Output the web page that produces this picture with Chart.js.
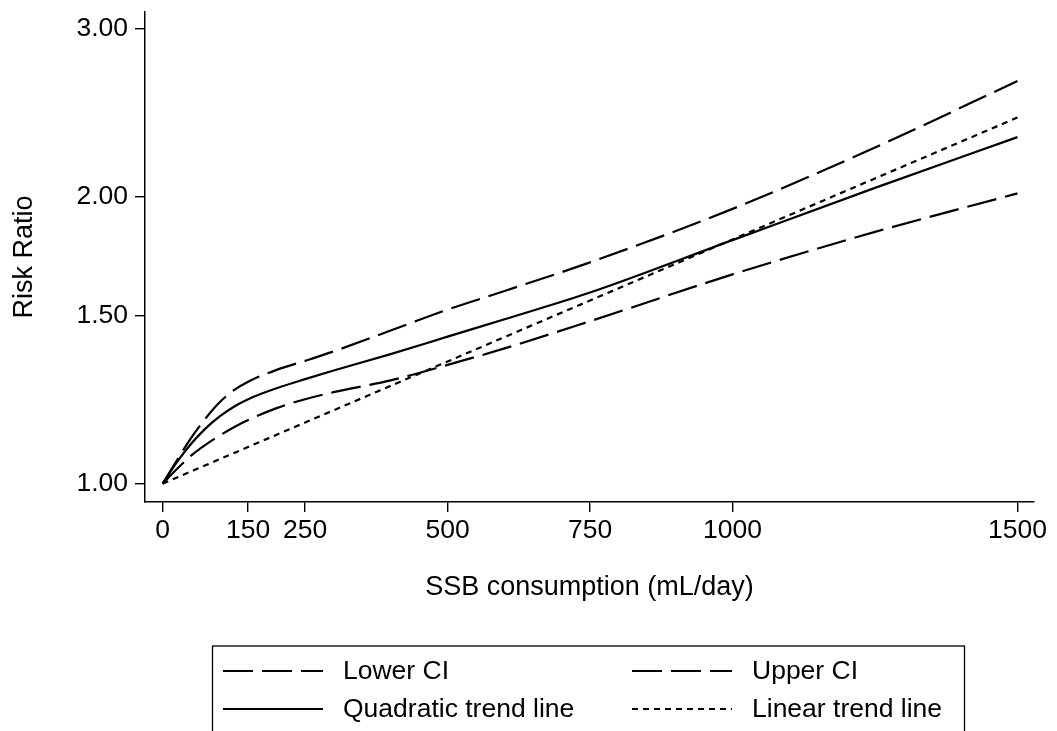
<!DOCTYPE html>
<html>
<head>
<meta charset="utf-8">
<script src="https://cdn.jsdelivr.net/npm/chart.js@4.4.1/dist/chart.umd.min.js"></script>
<style>
  html, body { margin: 0; padding: 0; background: #fff; }
  #wrap { width: 1057px; height: 731px; }
</style>
</head>
<body>
<div id="wrap"><canvas id="rrChart" width="1057" height="731"></canvas></div>
<script>
// SSB consumption (mL/day) where the curves are sampled
const doseX = [0, 25, 50, 75, 100, 125, 150, 200, 250, 300, 400, 500, 600, 750, 1000, 1250, 1500];
const lowerCI = [1.000, 1.036, 1.070, 1.098, 1.123, 1.146, 1.166, 1.200, 1.226, 1.247, 1.283, 1.332, 1.386, 1.480, 1.657, 1.836, 2.015];
const upperCI = [1.000, 1.058, 1.117, 1.170, 1.217, 1.253, 1.279, 1.316, 1.345, 1.376, 1.447, 1.522, 1.592, 1.706, 1.941, 2.251, 2.643];
const quadratic = [1.000, 1.053, 1.101, 1.142, 1.176, 1.204, 1.226, 1.259, 1.287, 1.314, 1.367, 1.426, 1.487, 1.586, 1.800, 2.042, 2.308];
const linearX = [0, 250, 500, 750, 1000, 1250, 1500];
const linearTrend = [1.000, 1.159, 1.343, 1.556, 1.803, 2.089, 2.420];

const xTicks = [0, 150, 250, 500, 750, 1000, 1500];
const yTicks = [1.00, 1.50, 2.00, 3.00];

const FONT = '"Liberation Sans", Arial, Helvetica, sans-serif';
const toPoints = (xs, ys) => xs.map((x, i) => ({ x: x, y: ys[i] }));

// legend drawn as a framed box under the axis title
const boxLegend = {
  id: 'boxLegend',
  afterDraw(chart) {
    const ctx = chart.ctx;
    const cols = [223, 632];
    const rows = [671, 709];
    ctx.save();
    ctx.strokeStyle = '#000';
    ctx.lineWidth = 1.3;
    ctx.strokeRect(212.5, 646, 752, 140);
    chart.data.datasets.forEach((ds, i) => {
      const x = cols[i % 2];
      const y = rows[Math.floor(i / 2)];
      ctx.beginPath();
      ctx.setLineDash(ds.borderDash || []);
      ctx.lineWidth = 2;
      ctx.moveTo(x, y);
      ctx.lineTo(x + 100, y);
      ctx.stroke();
      ctx.setLineDash([]);
      ctx.fillStyle = '#000';
      ctx.font = '26.5px ' + FONT;
      ctx.textBaseline = 'middle';
      ctx.textAlign = 'left';
      ctx.fillText(ds.label, x + 120, y + 1);
    });
    ctx.restore();
  }
};

const ctx = document.getElementById('rrChart').getContext('2d');
new Chart(ctx, {
  type: 'line',
  data: {
    datasets: [
      {
        label: 'Lower CI',
        data: toPoints(doseX, lowerCI),
        borderColor: '#000',
        borderDash: [30, 9],
        cubicInterpolationMode: 'monotone'
      },
      {
        label: 'Upper CI',
        data: toPoints(doseX, upperCI),
        borderColor: '#000',
        borderDash: [30, 9],
        cubicInterpolationMode: 'monotone'
      },
      {
        label: 'Quadratic trend line',
        data: toPoints(doseX, quadratic),
        borderColor: '#000',
        cubicInterpolationMode: 'monotone'
      },
      {
        label: 'Linear trend line',
        data: toPoints(linearX, linearTrend),
        borderColor: '#000',
        borderDash: [6, 5],
        tension: 0
      }
    ]
  },
  options: {
    responsive: false,
    animation: false,
    layout: { padding: { top: 12, right: 23, bottom: 0, left: 0 } },
    elements: {
      point: { radius: 0 },
      line: { borderWidth: 2.2, fill: false }
    },
    plugins: {
      legend: { display: false },
      tooltip: { enabled: false }
    },
    scales: {
      x: {
        type: 'linear',
        min: -31,
        max: 1529,
        bounds: 'data',
        afterBuildTicks: (scale) => { scale.ticks = xTicks.map(v => ({ value: v })); },
        afterFit: (scale) => {
          scale.height = 229;
          scale.paddingLeft = 0;
          scale.paddingRight = 0;
        },
        grid: { drawOnChartArea: false, drawTicks: true, tickLength: 10, color: '#000', lineWidth: 1.4 },
        border: { display: true, color: '#000', width: 1.5 },
        ticks: {
          color: '#000',
          padding: 3,
          maxRotation: 0,
          autoSkip: false,
          font: { family: FONT, size: 26.5 },
          callback: (v) => String(v)
        },
        title: {
          display: true,
          text: 'SSB consumption (mL/day)',
          color: '#000',
          font: { family: FONT, size: 27 },
          padding: { top: 0, bottom: 127 }
        }
      },
      y: {
        type: 'logarithmic',
        min: 0.9566,
        max: 3.122,
        bounds: 'data',
        afterBuildTicks: (scale) => { scale.ticks = yTicks.map(v => ({ value: v })); },
        afterFit: (scale) => {
          scale.width = 145;
          scale.paddingTop = 0;
          scale.paddingBottom = 0;
        },
        grid: { drawOnChartArea: false, drawTicks: true, tickLength: 10, color: '#000', lineWidth: 1.4 },
        border: { display: true, color: '#000', width: 1.5 },
        ticks: {
          color: '#000',
          padding: 7,
          autoSkip: false,
          font: { family: FONT, size: 26.5 },
          callback: (v) => Number(v).toFixed(2)
        },
        title: {
          display: true,
          text: 'Risk Ratio',
          color: '#000',
          font: { family: FONT, size: 27 },
          padding: { top: 8, bottom: 0 }
        }
      }
    }
  },
  plugins: [boxLegend]
});
</script>
</body>
</html>
